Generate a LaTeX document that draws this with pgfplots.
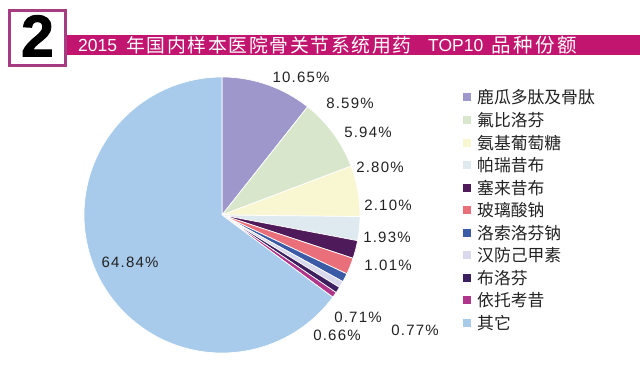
\documentclass[border=0pt]{standalone}
\usepackage{pgfplots}
\pgfplotsset{compat=1.18}
\usepackage{pgfplotstable}
\usepackage{fontspec}
\setmainfont{Liberation Sans}
\newfontfamily\cjk{Noto Sans CJK SC}
\newfontfamily\cjktitle[LetterSpace=9]{Noto Sans CJK SC}
\newfontfamily\cjktitleb[LetterSpace=13]{Noto Sans CJK SC}
\newfontfamily\lbl[LetterSpace=8]{Liberation Sans}
\newfontfamily\bigdigit[FakeBold=1.5]{Liberation Sans Bold}

\definecolor{c1}{HTML}{9D97CB}
\definecolor{c2}{HTML}{D8E7CC}
\definecolor{c3}{HTML}{F9F7D2}
\definecolor{c4}{HTML}{DFEAF0}
\definecolor{c5}{HTML}{4E1A5A}
\definecolor{c6}{HTML}{E9707A}
\definecolor{c7}{HTML}{3B5BA6}
\definecolor{c8}{HTML}{D9D9EE}
\definecolor{c9}{HTML}{3B1F5E}
\definecolor{c10}{HTML}{B0368C}
\definecolor{c11}{HTML}{A8CBEC}
\definecolor{band}{HTML}{C2156F}
\definecolor{boxc}{HTML}{A83C82}
\definecolor{txt}{HTML}{222222}

\pgfplotstableread{
value col name lx ly
10.65 c1 鹿瓜多肽及骨肽 301 301
8.59 c2 氟比洛芬 350 275
5.94 c3 氨基葡萄糖 368 246
2.80 c4 帕瑞昔布 380 211
2.10 c5 塞来昔布 388 173
1.93 c6 玻璃酸钠 387 141
1.01 c7 洛索洛芬钠 388 113
0.77 c8 汉防己甲素 415 48
0.71 c9 布洛芬 358 61
0.66 c10 依托考昔 337 43
64.84 c11 其它 130 116
}\piedata

\begin{document}
\begin{tikzpicture}
\begin{axis}[
  scale only axis, width=640bp, height=378bp,
  xmin=0, xmax=640, ymin=0, ymax=378,
  hide axis, clip=false]
\path (axis cs:0,0) rectangle (axis cs:640,378);
% title band and numbered box
\fill[band] (axis cs:66,323) rectangle (axis cs:640,343);
\draw[boxc, fill=white, line width=3bp] (axis cs:9.5,312.5) rectangle (axis cs:65.5,367.5);
\node[anchor=base, inner sep=0] at (axis cs:37.5,321.5) {\bigdigit\fontsize{59bp}{59bp}\selectfont 2};
\node[anchor=west, inner sep=0, white] at (axis cs:78,333) {\fontsize{17.5bp}{17.5bp}\selectfont 2015};
\node[anchor=west, inner sep=0, white] at (axis cs:126,333) {\cjktitle\fontsize{18.8bp}{18.8bp}\selectfont 年国内样本医院骨关节系统用药};
\node[anchor=west, inner sep=0, white] at (axis cs:428,333) {\fontsize{17.5bp}{17.5bp}\selectfont TOP10};
\node[anchor=west, inner sep=0, white] at (axis cs:491,333) {\cjktitleb\fontsize{19.5bp}{19.5bp}\selectfont 品种份额};
\pgfplotsextra{%
  \gdef\curang{90}%
  \foreach \i in {0,...,10}{%
    \pgfplotstablegetelem{\i}{value}\of\piedata \edef\sliceval{\pgfplotsretval}%
    \pgfplotstablegetelem{\i}{col}\of\piedata \edef\slicecol{\pgfplotsretval}%
    \pgfplotstablegetelem{\i}{name}\of\piedata \edef\slicename{\pgfplotsretval}%
    \pgfplotstablegetelem{\i}{lx}\of\piedata \edef\labx{\pgfplotsretval}%
    \pgfplotstablegetelem{\i}{ly}\of\piedata \edef\laby{\pgfplotsretval}%
    \pgfmathsetmacro\endang{\curang-3.6*\sliceval}%
    \fill[fill=\slicecol, draw=white, line width=0.7bp] (axis cs:222,163) -- ++(\curang:138bp) arc[start angle=\curang, end angle=\endang, radius=138bp] -- cycle;
    \node[inner sep=0, text=txt] at (axis cs:\labx,\laby) {\lbl\fontsize{15bp}{15bp}\selectfont\sliceval\%};
    \pgfmathsetmacro\legy{280.5-22.55*\i}%
    \pgfmathsetmacro\legyb{\legy-4}%
    \fill[fill=\slicecol] (axis cs:463,\legyb) rectangle ++(8bp,8bp);
    \node[anchor=west, inner sep=0, text=txt] at (axis cs:477,\legy) {\cjk\fontsize{16.8bp}{16.8bp}\selectfont\slicename};
    \global\let\curang\endang
  }%
}
\end{axis}
\end{tikzpicture}
\end{document}
